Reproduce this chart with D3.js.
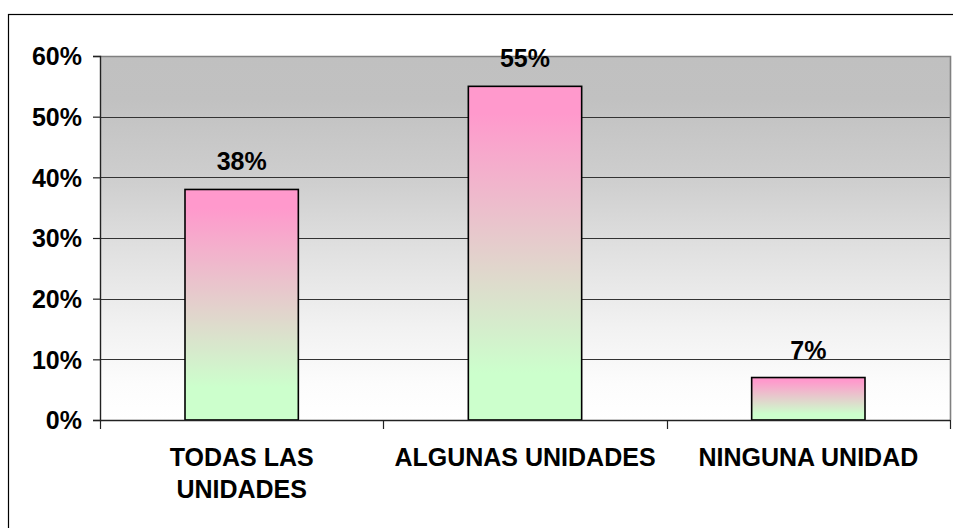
<!DOCTYPE html>
<html>
<head>
<meta charset="utf-8">
<script src="https://cdn.jsdelivr.net/npm/d3@7"></script>
<style>
  html, body { margin: 0; padding: 0; background: #fff; }
  svg { display: block; }
  text { font-family: "Liberation Sans", Arial, sans-serif; font-weight: bold; fill: #000; }
</style>
</head>
<body>
<svg id="chart" width="953" height="528"></svg>
<script>
const categories = [["TODAS LAS", "UNIDADES"], ["ALGUNAS UNIDADES"], ["NINGUNA UNIDAD"]];
const values = [0.38, 0.55, 0.07];
const tickValues = [0, 0.1, 0.2, 0.3, 0.4, 0.5, 0.6];

const W = 953, H = 528;
const plot = { left: 100, right: 950, top: 56, bottom: 420 };

const svg = d3.select("#chart");
const defs = svg.append("defs");

const bg = defs.append("linearGradient").attr("id", "bgGrad")
  .attr("x1", 0).attr("y1", 0).attr("x2", 0).attr("y2", 1);
[[0, "#c0c0c0"], [0.12, "#c1c1c1"], [0.35, "#cfcfcf"], [0.55, "#e2e2e2"], [0.75, "#f2f2f2"], [0.9, "#fcfcfc"], [1, "#ffffff"]]
  .forEach(([o, c]) => bg.append("stop").attr("offset", o).attr("stop-color", c));

const bar = defs.append("linearGradient").attr("id", "barGrad")
  .attr("x1", 0).attr("y1", 0).attr("x2", 0).attr("y2", 1);
[[0, "#ff99cc"], [0.08, "#ff99cc"], [0.86, "#ccffcc"], [1, "#ccffcc"]]
  .forEach(([o, c]) => bar.append("stop").attr("offset", o).attr("stop-color", c));

// outer chart frame (clipped on right/bottom like the reference)
svg.append("rect").attr("x", 8.5).attr("y", 14.5).attr("width", W + 10).attr("height", H + 10)
  .attr("fill", "none").attr("stroke", "#000").attr("stroke-width", 1.2);

const y = d3.scaleLinear().domain([0, 0.6]).range([plot.bottom, plot.top]);
const slot = d3.scaleBand().domain(d3.range(values.length)).range([plot.left, plot.right]).padding(0);
const x = d3.scaleBand().domain(d3.range(values.length)).range([plot.left, plot.right])
  .paddingInner(0.6).paddingOuter(0.3);

// plot background
svg.append("rect").attr("x", plot.left).attr("y", plot.top)
  .attr("width", plot.right - plot.left).attr("height", plot.bottom - plot.top)
  .attr("fill", "url(#bgGrad)");

// gridlines
svg.append("g").selectAll("line").data(tickValues.filter(d => d > 0 && d < 0.6)).join("line")
  .attr("x1", plot.left).attr("x2", plot.right)
  .attr("y1", d => Math.round(y(d)) + 0.5).attr("y2", d => Math.round(y(d)) + 0.5)
  .attr("stroke", "#333").attr("stroke-width", 1.2);

// plot border top and right (gray)
svg.append("path")
  .attr("d", `M${plot.left},${plot.top + 0.5}H${plot.right + 0.5}V${plot.bottom}`)
  .attr("fill", "none").attr("stroke", "#808080").attr("stroke-width", 1.6);

// bars
svg.append("g").selectAll("rect").data(values).join("rect")
  .attr("x", (d, i) => x(i)).attr("y", d => y(d))
  .attr("width", x.bandwidth()).attr("height", d => plot.bottom - y(d))
  .attr("fill", "url(#barGrad)").attr("stroke", "#000").attr("stroke-width", 1.6);

// value labels
svg.append("g").selectAll("text").data(values).join("text")
  .attr("x", (d, i) => x(i) + x.bandwidth() / 2)
  .attr("y", d => y(d) - 19)
  .attr("text-anchor", "middle").attr("font-size", 25)
  .text(d => d3.format(".0%")(d));

// y axis
const yAxis = svg.append("g").attr("transform", `translate(${plot.left},0)`)
  .call(d3.axisLeft(y).tickValues(tickValues).tickFormat(d3.format(".0%")).tickSize(7).tickPadding(11));
yAxis.select(".domain").attr("stroke", "#222").attr("stroke-width", 1.4);
yAxis.selectAll(".tick line").attr("stroke", "#222").attr("stroke-width", 1.2);
yAxis.selectAll(".tick text").attr("font-size", 25).attr("font-family", '"Liberation Sans", Arial, sans-serif')
  .attr("font-weight", "bold").attr("fill", "#000").attr("dy", "0.35em");

// x axis line + ticks at category boundaries
const xg = svg.append("g");
xg.append("line").attr("x1", plot.left).attr("x2", plot.right)
  .attr("y1", plot.bottom + 0.5).attr("y2", plot.bottom + 0.5)
  .attr("stroke", "#222").attr("stroke-width", 1.6);
const bounds = d3.range(values.length + 1).map(i => i < values.length ? slot(i) : slot(i - 1) + slot.bandwidth());
xg.selectAll("line.tk").data(bounds).join("line").attr("class", "tk")
  .attr("x1", d => Math.round(d) + 0.5).attr("x2", d => Math.round(d) + 0.5)
  .attr("y1", plot.bottom).attr("y2", plot.bottom + 9)
  .attr("stroke", "#222").attr("stroke-width", 1.2);

// category labels
const cl = svg.append("g").selectAll("text").data(categories).join("text")
  .attr("x", (d, i) => slot(i) + slot.bandwidth() / 2)
  .attr("y", 466)
  .attr("text-anchor", "middle").attr("font-size", 25);
cl.selectAll("tspan").data(d => d).join("tspan")
  .attr("x", function () { return d3.select(this.parentNode).attr("x"); })
  .attr("dy", (d, i) => i === 0 ? 0 : 32)
  .text(d => d);
</script>
</body>
</html>
